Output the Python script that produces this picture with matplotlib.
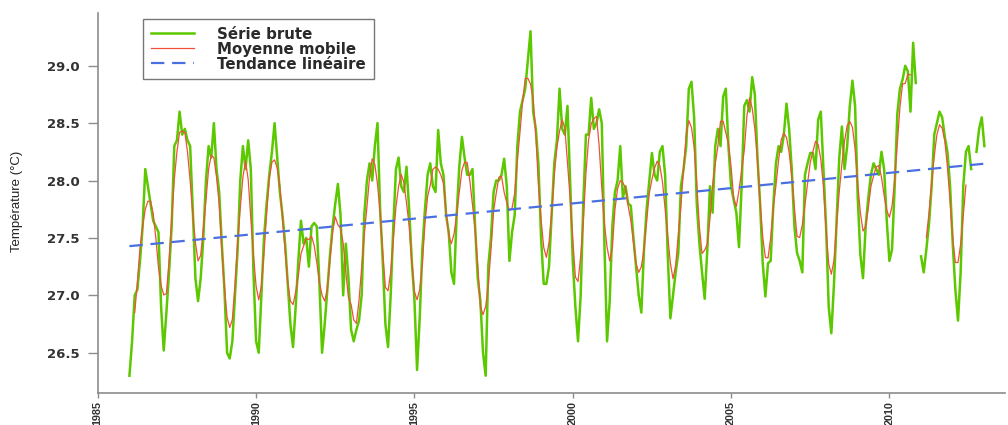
import numpy as np
import pandas as pd
import matplotlib
matplotlib.use('Agg')
import matplotlib.pyplot as plt

# valeurs mensuelles (janvier -> décembre), nan = mois manquant
t1986 = [26.3, 26.6, 27.0, 27.05, 27.3, 27.6, 28.1, 27.95, 27.8, 27.65, 27.6, 27.55]
t1987 = [26.9, 26.52, 26.85, 27.2, 27.6, 28.3, 28.35, 28.6, 28.4, 28.45, 28.35, 28.3]
t1988 = [27.75, 27.15, 26.95, 27.15, 27.5, 28.0, 28.3, 28.2, 28.5, 28.1, 27.9, 27.45]
t1989 = [27.05, 26.5, 26.45, 26.6, 27.0, 27.4, 28.0, 28.3, 28.1, 28.35, 28.1, 27.2]
t1990 = [26.6, 26.5, 27.0, 27.5, 27.8, 28.05, 28.25, 28.5, 28.2, 27.9, 27.7, 27.45]
t1991 = [27.1, 26.75, 26.55, 26.9, 27.3, 27.65, 27.45, 27.5, 27.25, 27.6, 27.63, 27.6]
t1992 = [27.1, 26.5, 26.75, 27.05, 27.35, 27.6, 27.8, 27.97, 27.7, 27.0, 27.45, 27.15]
t1993 = [26.7, 26.6, 26.7, 26.78, 27.0, 27.7, 28.0, 28.15, 28.0, 28.3, 28.5, 27.75]
t1994 = [27.3, 26.75, 26.55, 27.0, 27.6, 28.1, 28.2, 27.95, 27.9, 28.12, 27.75, 27.3]
t1995 = [26.96, 26.35, 26.8, 27.4, 27.75, 28.05, 28.15, 27.95, 27.9, 28.44, 28.15, 28.05]
t1996 = [27.7, 27.55, 27.2, 27.1, 27.7, 28.12, 28.38, 28.2, 28.05, 28.05, 28.1, 27.6]
t1997 = [27.15, 26.95, 26.5, 26.3, 27.26, 27.5, 27.9, 28.0, 28.0, 28.05, 28.19, 27.95]
t1998 = [27.3, 27.55, 27.7, 28.3, 28.6, 28.7, 28.8, 29.05, 29.3, 28.6, 28.45, 28.14]
t1999 = [27.5, 27.1, 27.1, 27.25, 27.7, 28.15, 28.35, 28.8, 28.45, 28.4, 28.65, 28.0]
t2000 = [27.3, 26.9, 26.6, 27.0, 27.8, 28.4, 28.4, 28.72, 28.45, 28.5, 28.62, 28.5]
t2001 = [27.45, 26.6, 26.95, 27.6, 27.9, 28.0, 28.3, 27.85, 27.95, 27.8, 27.78, 27.5]
t2002 = [27.25, 27.0, 26.85, 27.4, 27.75, 28.0, 28.24, 28.05, 28.0, 28.25, 28.3, 28.05]
t2003 = [27.35, 26.8, 27.0, 27.2, 27.37, 27.95, 28.1, 28.3, 28.8, 28.86, 28.55, 27.8]
t2004 = [27.45, 27.2, 26.97, 27.4, 27.95, 27.72, 28.3, 28.45, 28.3, 28.73, 28.8, 28.3]
t2005 = [27.95, 27.83, 27.72, 27.42, 27.95, 28.65, 28.7, 28.6, 28.9, 28.75, 28.2, 27.8]
t2006 = [27.28, 26.99, 27.28, 27.3, 27.78, 28.15, 28.3, 28.25, 28.4, 28.67, 28.45, 28.1]
t2007 = [27.6, 27.37, 27.3, 27.2, 28.05, 28.15, 28.24, 28.24, 28.1, 28.53, 28.6, 28.1]
t2008 = [27.6, 26.9, 26.67, 27.1, 27.65, 28.2, 28.47, 28.1, 28.3, 28.65, 28.87, 28.65]
t2009 = [27.85, 27.35, 27.15, 27.6, 27.85, 28.05, 28.15, 28.1, 28.05, 28.25, 28.1, 27.65]
t2010 = [27.3, 27.4, 27.95, 28.58, 28.8, 28.88, 29.0, 28.95, 28.6, 29.2, 28.85, np.nan]
t2011 = [27.34, 27.2, 27.4, 27.62, 27.95, 28.4, 28.5, 28.6, 28.55, 28.38, 28.25, 27.95]
t2012 = [27.45, 27.05, 26.78, 27.2, 27.95, 28.25, 28.3, 28.1, np.nan, 28.25, 28.45, 28.55]
t2013 = [28.3]

serie = np.array(t1986 + t1987 + t1988 + t1989 + t1990 + t1991 + t1992 + t1993
                 + t1994 + t1995 + t1996 + t1997 + t1998 + t1999 + t2000 + t2001
                 + t2002 + t2003 + t2004 + t2005 + t2006 + t2007 + t2008 + t2009
                 + t2010 + t2011 + t2012 + t2013)

dates = pd.date_range('1986-01-01', periods=len(serie), freq='MS')
annee = np.asarray(dates.year + (dates.month - 1) / 12.0)

# moyenne mobile centrée sur 5 mois
moyenne = pd.Series(serie).rolling(5, center=True).mean().values

# tendance linéaire (moindres carrés)
ok = ~np.isnan(serie)
pente, origine = np.polyfit(annee[ok], serie[ok], 1)
tendance = origine + pente * annee

vert = '#5cc800'
rouge = '#f0503c'
bleu = '#4a6fe0'
gris = '#8c8c8c'

fig = plt.figure(figsize=(10.08, 4.25), dpi=100)
ax = fig.add_axes([0.097, 0.0746, 0.9, 0.8948])

ax.plot(annee, serie, color=vert, lw=1.8, label='Série brute')
ax.plot(annee, moyenne, color=rouge, lw=0.9, label='Moyenne mobile')
ax.plot(annee, tendance, color=bleu, lw=1.6, ls=(0, (6, 3.5)), label='Tendance linéaire')

ax.set_xlim(1985, 2013.65)
ax.set_ylim(26.147, 29.459)
ax.set_xticks([1985, 1990, 1995, 2000, 2005, 2010])
ax.set_xticklabels(['1985', '1990', '1995', '2000', '2005', '2010'],
                   rotation=90, family='Liberation Sans', fontsize=7.8, fontweight='bold')
ax.set_yticks([26.5, 27.0, 27.5, 28.0, 28.5, 29.0])
ax.set_yticklabels(['26.5', '27.0', '27.5', '28.0', '28.5', '29.0'],
                   family='DejaVu Sans', fontsize=9.5, fontweight='bold')

for s in ['top', 'right']:
    ax.spines[s].set_visible(False)
for s in ['left', 'bottom']:
    ax.spines[s].set_color(gris)
    ax.spines[s].set_linewidth(1.2)

ax.tick_params(direction='out', width=1, color=gris, labelcolor='#333333')
ax.tick_params(axis='y', length=7, pad=6)
ax.tick_params(axis='x', length=3.6, pad=2.0)

fig.text(0.017, 0.525, 'Température (°C)', rotation=90, ha='center', va='center',
         family='Liberation Sans', fontsize=9.5, color='#222222')

leg = ax.legend(loc='upper left', bbox_to_anchor=(0.05, 0.984), borderaxespad=0,
                fancybox=False, framealpha=1, edgecolor='#777777',
                handlelength=2.9, handletextpad=1.55, borderpad=0.5, labelspacing=0.0,
                prop={'family': 'DejaVu Sans', 'size': 10.8, 'weight': 'bold'})
leg.get_frame().set_linewidth(1.0)
for txt in leg.get_texts():
    txt.set_color('#2a2a2a')

fig.savefig('out.png', dpi=100)
